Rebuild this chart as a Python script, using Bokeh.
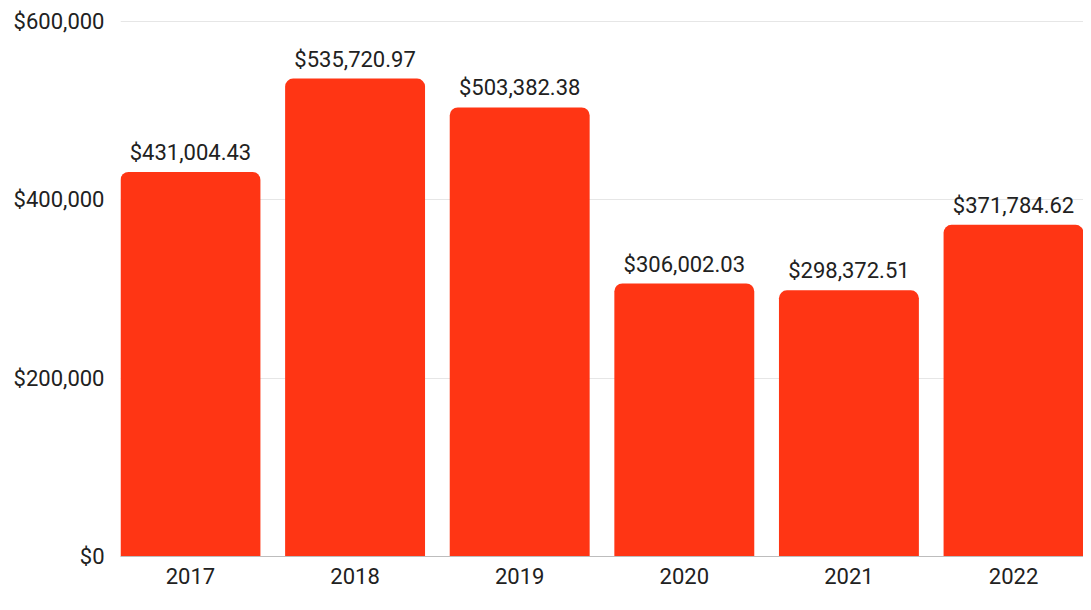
from bokeh.plotting import figure
from bokeh.models import (ColumnDataSource, Range1d, FixedTicker, NumeralTickFormatter, LabelSet)
from bokeh.core.properties import value
from bokeh.embed import file_html
from bokeh.resources import INLINE

years = ["2017", "2018", "2019", "2020", "2021", "2022"]
values = [431004.43, 535720.97, 503382.38, 306002.03, 298372.51, 371784.62]
labels = ["${:,.2f}".format(v) for v in values]
xpos = list(range(len(years)))

src = ColumnDataSource(dict(x=xpos, top=values, label=labels))

FONT = "Roboto"
TXT = "#212121"
FS = "22px"

p = figure(width=1083, height=594, output_backend="svg", toolbar_location=None,
           x_range=Range1d(-0.425, len(years) - 1 + 0.425), y_range=Range1d(0, 600800),
           min_border_left=120, min_border_right=0, min_border_top=20, min_border_bottom=38)
p.outline_line_color = None
p.background_fill_color = "white"
p.border_fill_color = "white"

p.vbar(x="x", top="top", width=0.85, bottom=0, source=src, fill_color="#FF3514",
       line_color=None, border_radius=(8, 8, 0, 0))

p.add_layout(LabelSet(x="x", y="top", text="label", source=src, text_align="center",
                      text_baseline="bottom", y_offset=7, text_font=value(FONT),
                      text_font_size=FS, text_color=TXT))

p.yaxis.ticker = FixedTicker(ticks=[0, 200000, 400000, 600000])
p.yaxis.formatter = NumeralTickFormatter(format="$0,0")
p.yaxis.axis_line_color = None
p.yaxis.major_tick_line_color = None
p.yaxis.minor_tick_line_color = None
p.yaxis.major_label_standoff = 10
p.yaxis.major_label_text_font = FONT
p.yaxis.major_label_text_font_size = FS
p.yaxis.major_label_text_color = TXT

p.xaxis.ticker = FixedTicker(ticks=xpos)
p.xaxis.major_label_overrides = {i: y for i, y in zip(xpos, years)}
p.xaxis.axis_line_color = "#bdbdbd"
p.xaxis.major_tick_line_color = None
p.xaxis.minor_tick_line_color = None
p.xaxis.major_label_standoff = 5
p.xaxis.major_label_text_font = FONT
p.xaxis.major_label_text_font_size = FS
p.xaxis.major_label_text_color = TXT

p.xgrid.grid_line_color = None
p.ygrid.grid_line_color = "#e6e6e6"
p.ygrid.level = "underlay"

open("out.html", "w").write(file_html(p, INLINE))
